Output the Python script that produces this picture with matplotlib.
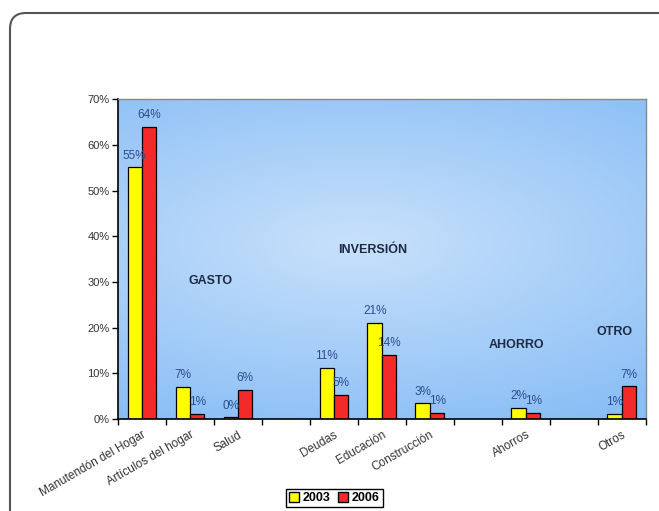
import matplotlib.pyplot as plt
import numpy as np
from matplotlib.patches import FancyBboxPatch, Patch

plt.rcParams['font.family'] = ['Liberation Sans', 'DejaVu Sans']

categories = ["Manutendón del Hogar", "Artículos del hogar", "Salud", "",
              "Deudas", "Educación", "Construcción", "",
              "Ahorros", "", "Otros"]
v2003 = [55.1, 7.0, 0.4, np.nan, 11.2, 21.0, 3.4, np.nan, 2.4, np.nan, 1.1]
v2006 = [63.9, 1.1, 6.4, np.nan, 5.3, 14.0, 1.4, np.nan, 1.4, np.nan, 7.2]
groups = ["GASTO", "INVERSIÓN", "AHORRO", "OTRO"]
group_pos = [(1.42, 30.2), (4.8, 37.0), (7.8, 16.2), (9.85, 19.0)]

fig = plt.figure(figsize=(6.59, 5.11), dpi=100)
ax = fig.add_axes([0.179, 0.180, 0.801, 0.626])

# outer rounded frame
frame = FancyBboxPatch((0.10, -0.4), 7.2, 5.11 - 0.13 + 0.4,
                       boxstyle="round,pad=0,rounding_size=0.16",
                       transform=fig.dpi_scale_trans, fill=False,
                       edgecolor="#555555", linewidth=1.5)
fig.patches.append(frame)

n = len(categories)
x = np.arange(n)
ax.set_xlim(-0.5, n - 0.5)
ax.set_ylim(0, 70)

# gradient background
gy, gx = np.mgrid[0:1:200j, 0:1:300j]
t = np.clip(np.sqrt(((gx - 0.45) * 1.1) ** 2 + ((gy - 0.55) * 1.6) ** 2), 0, 1)
light = np.array([200, 225, 251]) / 255
dark = np.array([138, 190, 246]) / 255
img = light[None, None, :] * (1 - t[..., None]) + dark[None, None, :] * t[..., None]
ax.imshow(img, extent=[-0.5, n - 0.5, 0, 70], aspect='auto', zorder=0, origin='lower')

width = 0.3
ax.bar(x - width / 2, v2003, width, color="#FFFF00", edgecolor="black", linewidth=0.9, zorder=2)
ax.bar(x + width / 2, v2006, width, color="#F42A2A", edgecolor="black", linewidth=0.9, zorder=2)

label_color = "#2E4C8C"
for xs, vals in ((x - width / 2, v2003), (x + width / 2, v2006)):
    for xi, v in zip(xs, vals):
        if np.isnan(v):
            continue
        ax.annotate(f"{round(v):.0f}%", (xi, v), xytext=(0, 4), textcoords="offset points",
                    ha="center", va="bottom", fontsize=8.5, color=label_color, zorder=3)

for g, (gx_, gy_) in zip(groups, group_pos):
    ax.text(gx_, gy_, g, ha="center", va="center", fontsize=9, fontweight="bold",
            color="#1F2A44", zorder=3)

ax.set_yticks(np.arange(0, 71, 10))
ax.set_yticklabels([f"{v}%" for v in range(0, 71, 10)], fontsize=8, color="#333333")
ax.set_xticks(x)
ax.set_xticklabels(categories, rotation=30, ha="right", rotation_mode="anchor",
                   fontsize=8.5, color="#333333")
ax.set_xticks(np.arange(-0.5, n, 1), minor=True)
ax.tick_params(axis='x', which='major', length=0, pad=7)
ax.tick_params(axis='x', which='minor', length=4, width=1, direction='out')
ax.tick_params(axis='y', length=4, width=1, direction='out', pad=2)

for s in ("left", "bottom"):
    ax.spines[s].set_color("black")
    ax.spines[s].set_linewidth(1.2)
for s in ("top", "right"):
    ax.spines[s].set_color("#888888")
    ax.spines[s].set_linewidth(1.0)

handles = [Patch(facecolor="#FFFF00", edgecolor="black", label="2003"),
           Patch(facecolor="#F42A2A", edgecolor="black", label="2006")]
leg = fig.legend(handles=handles, loc="center", bbox_to_anchor=(334 / 659, 1 - 498 / 511),
                 ncol=2, fancybox=False, framealpha=1, edgecolor="black",
                 prop={'size': 9, 'weight': 'bold'}, handlelength=0.8, handleheight=0.8,
                 columnspacing=0.6, handletextpad=0.3, borderpad=0.25, borderaxespad=0)
leg.get_frame().set_linewidth(1.0)

fig.savefig("out.png", dpi=100)
